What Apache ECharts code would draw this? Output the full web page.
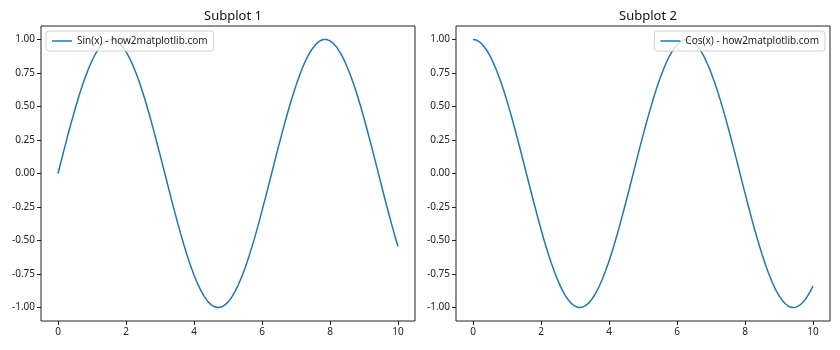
<!DOCTYPE html>
<html><head><meta charset="utf-8">
<script src="https://cdn.jsdelivr.net/npm/echarts@6/dist/echarts.min.js"></script>
<style>html,body{margin:0;padding:0;background:#fff}#c{width:840px;height:350px}</style>
</head><body><div id="c"></div>
<script>
const xValues = [0,0.1,0.2,0.3,0.4,0.5,0.6,0.7,0.8,0.9,1,1.1,1.2,1.3,1.4,1.5,1.6,1.7,1.8,1.9,2,2.1,2.2,2.3,2.4,2.5,2.6,2.7,2.8,2.9,3,3.1,3.2,3.3,3.4,3.5,3.6,3.7,3.8,3.9,4,4.1,4.2,4.3,4.4,4.5,4.6,4.7,4.8,4.9,5,5.1,5.2,5.3,5.4,5.5,5.6,5.7,5.8,5.9,6,6.1,6.2,6.3,6.4,6.5,6.6,6.7,6.8,6.9,7,7.1,7.2,7.3,7.4,7.5,7.6,7.7,7.8,7.9,8,8.1,8.2,8.3,8.4,8.5,8.6,8.7,8.8,8.9,9,9.1,9.2,9.3,9.4,9.5,9.6,9.7,9.8,9.9,10];
const sinValues = [0.000,0.100,0.199,0.296,0.389,0.479,0.565,0.644,0.717,0.783,0.841,0.891,0.932,0.964,0.985,0.997,1.000,0.992,0.974,0.946,0.909,0.863,0.808,0.746,0.675,0.598,0.516,0.427,0.335,0.239,0.141,0.042,-0.058,-0.158,-0.256,-0.351,-0.443,-0.530,-0.612,-0.688,-0.757,-0.818,-0.872,-0.916,-0.952,-0.978,-0.994,-1.000,-0.996,-0.982,-0.959,-0.926,-0.883,-0.832,-0.773,-0.706,-0.631,-0.551,-0.465,-0.374,-0.279,-0.182,-0.083,0.017,0.117,0.215,0.312,0.405,0.494,0.578,0.657,0.729,0.794,0.851,0.899,0.938,0.968,0.988,0.999,0.999,0.989,0.970,0.941,0.902,0.855,0.798,0.734,0.663,0.585,0.501,0.412,0.319,0.223,0.124,0.025,-0.075,-0.175,-0.272,-0.366,-0.458,-0.544];
const cosValues = [1.000,0.995,0.980,0.955,0.921,0.878,0.825,0.765,0.697,0.622,0.540,0.454,0.362,0.267,0.170,0.071,-0.029,-0.129,-0.227,-0.323,-0.416,-0.505,-0.589,-0.666,-0.737,-0.801,-0.857,-0.904,-0.942,-0.971,-0.990,-0.999,-0.998,-0.987,-0.967,-0.936,-0.897,-0.848,-0.791,-0.726,-0.654,-0.575,-0.490,-0.401,-0.307,-0.211,-0.112,-0.012,0.087,0.187,0.284,0.378,0.469,0.554,0.635,0.709,0.776,0.835,0.886,0.927,0.960,0.983,0.997,1.000,0.993,0.977,0.950,0.914,0.869,0.815,0.754,0.685,0.608,0.526,0.439,0.347,0.252,0.154,0.054,-0.046,-0.146,-0.244,-0.340,-0.432,-0.519,-0.602,-0.678,-0.748,-0.811,-0.866,-0.911,-0.948,-0.975,-0.993,-1.000,-0.997,-0.984,-0.962,-0.930,-0.889,-0.839];
const xTicks = [0,2,4,6,8,10];
const yTicks = [-1,-0.75,-0.5,-0.25,0,0.25,0.5,0.75,1];
const titles = ['Subplot 1','Subplot 2'];
const seriesNames = ['Sin(x) - how2matplotlib.com','Cos(x) - how2matplotlib.com'];

const FONT = 'Noto Sans';
const chart = echarts.init(document.getElementById('c'));
const gridDefs = [{left:41, top:26, width:374, height:295},{left:456, top:26, width:374, height:295}];
function xAxis(i){return {type:'value',gridIndex:i,min:-0.5,max:10.5,
  axisLine:{show:false,onZero:false},splitLine:{show:false},
  axisTick:{show:true,inside:false,length:4,customValues:xTicks,lineStyle:{color:'#222'}},
  axisLabel:{customValues:xTicks,color:'#222',fontSize:10,fontFamily:FONT,margin:6}};}
function yAxis(i){return {type:'value',gridIndex:i,min:-1.1,max:1.1,
  axisLine:{show:false,onZero:false},splitLine:{show:false},
  axisTick:{show:true,inside:false,length:4,customValues:yTicks,lineStyle:{color:'#222'}},
  axisLabel:{customValues:yTicks,color:'#222',fontSize:10,fontFamily:FONT,margin:6,formatter:v=>v.toFixed(2)}};}
const data = [sinValues, cosValues].map(arr => xValues.map((x,i)=>[x,arr[i]]));
const legendBase = {orient:'vertical',borderColor:'#d0d0d0',borderWidth:1,borderRadius:3,padding:[4,6,4,6],
  icon:'rect',itemWidth:20,itemHeight:1.5,itemGap:4,
  textStyle:{fontSize:10,color:'#222',fontFamily:FONT,lineHeight:12},backgroundColor:'rgba(255,255,255,0.8)'};
chart.setOption({
  animation:false,
  title: titles.map((t,i)=>({text:t,left:gridDefs[i].left+gridDefs[i].width/2,top:5,textAlign:'center',
    textStyle:{fontSize:13,fontWeight:'normal',color:'#111',fontFamily:FONT}})),
  grid: gridDefs.map(g=>Object.assign({show:true,borderColor:'#222',borderWidth:1,backgroundColor:'transparent'},g)),
  xAxis:[xAxis(0),xAxis(1)],
  yAxis:[yAxis(0),yAxis(1)],
  legend:[
    Object.assign({data:[seriesNames[0]],left:46,top:31},legendBase),
    Object.assign({data:[seriesNames[1]],right:15,top:31},legendBase)
  ],
  series: data.map((d,i)=>({name:seriesNames[i],type:'line',xAxisIndex:i,yAxisIndex:i,data:d,
    smooth:false,symbol:'none',lineStyle:{color:'#1f77b4',width:1.5},itemStyle:{color:'#1f77b4'}}))
});
</script></body></html>
